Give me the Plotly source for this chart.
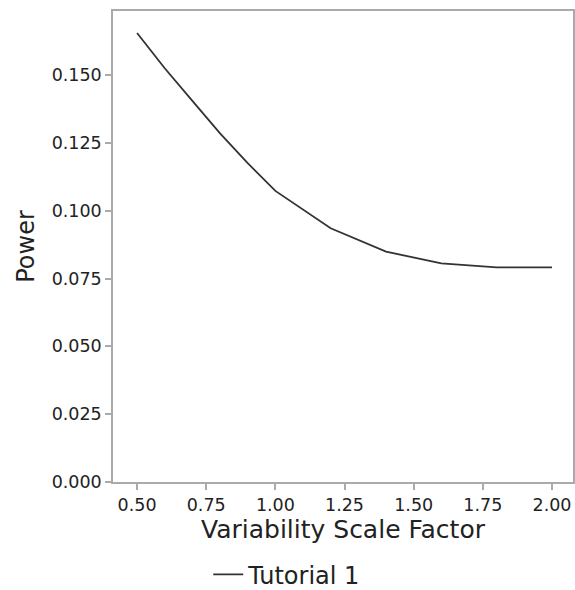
import plotly.graph_objects as go

scale_factor = [0.5, 0.6, 0.7, 0.8, 0.9, 1.0, 1.2, 1.4, 1.6, 1.8, 2.0]
power = [0.1655, 0.1525, 0.1405, 0.1285, 0.1175, 0.1073, 0.0935, 0.0849, 0.0806, 0.0791, 0.0791]
series_name = "Tutorial 1"
x_ticks = [0.5, 0.75, 1.0, 1.25, 1.5, 1.75, 2.0]
x_tick_labels = ["0.50", "0.75", "1.00", "1.25", "1.50", "1.75", "2.00"]
y_ticks = [0.0, 0.025, 0.05, 0.075, 0.1, 0.125, 0.15]
y_tick_labels = ["0.000", "0.025", "0.050", "0.075", "0.100", "0.125", "0.150"]

fig = go.Figure()
fig.add_trace(go.Scatter(x=scale_factor, y=power, mode="lines", name=series_name,
                         line=dict(color="#333333", width=1.8), showlegend=True))

axis_common = dict(showline=True, linecolor="#aaaaaa", linewidth=1.5, mirror=True,
                   ticks="outside", ticklen=6, tickcolor="#aaaaaa", tickwidth=1.5,
                   showgrid=False, zeroline=False, automargin=True,
                   tickfont=dict(family="DejaVu Sans", size=17.5, color="#222222"))

fig.update_layout(
    width=575, height=590,
    margin=dict(l=113, r=2, t=11, b=108, autoexpand=False),
    paper_bgcolor="white", plot_bgcolor="white",
    font=dict(family="DejaVu Sans", color="#222222"),
    xaxis=dict(range=[0.413, 2.076], tickvals=x_ticks, ticktext=x_tick_labels,
               title=dict(text="Variability Scale Factor", font=dict(size=25), standoff=5),
               **axis_common),
    yaxis=dict(range=[0, 0.1736], tickvals=y_ticks, ticktext=y_tick_labels,
               title=dict(text="Power", font=dict(size=24), standoff=10),
               **axis_common),
    legend=dict(orientation="h", x=0.207, xanchor="left", y=-0.149, yanchor="top",
                font=dict(size=24, color="#222222"), bgcolor="rgba(0,0,0,0)"),
    showlegend=True,
)

fig.write_html("out.html", config={"displayModeBar": False},
               post_script="document.body.style.margin='0';")
